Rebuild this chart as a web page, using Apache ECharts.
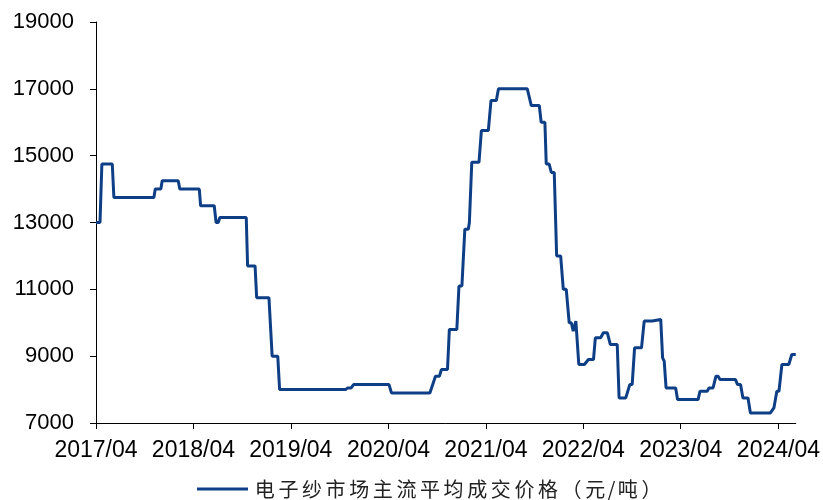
<!DOCTYPE html>
<html>
<head>
<meta charset="utf-8">
<script src="https://cdn.jsdelivr.net/npm/echarts@6/dist/echarts.min.js"></script>
<style>html,body{margin:0;padding:0;background:#fff}#c{width:823px;height:500px}</style>
</head>
<body>
<div id="c"></div>
<script>
var seriesName = '电子纱市场主流平均成交价格（元/吨）';
var dates = [
 '2017-04-01','2017-04-16','2017-04-23','2017-06-01','2017-06-07','2017-11-04','2017-11-09','2017-11-30','2017-12-05',
 '2018-02-03','2018-02-09','2018-04-23','2018-04-28','2018-06-18','2018-06-25','2018-07-03','2018-07-09','2018-10-16',
 '2018-10-21','2018-11-18','2018-11-24','2019-01-09','2019-01-21','2019-02-11','2019-02-18','2019-10-23','2019-10-31',
 '2019-11-13','2019-11-22','2020-04-03','2020-04-12','2020-09-03','2020-09-24','2020-10-09','2020-10-16','2020-11-08',
 '2020-11-15','2020-12-13','2020-12-21','2021-01-01','2021-01-12','2021-01-25','2021-01-29','2021-02-07','2021-03-06',
 '2021-03-15','2021-04-10','2021-04-20','2021-05-10','2021-05-18','2021-09-03','2021-09-18','2021-10-18','2021-10-25',
 '2021-11-08','2021-11-13','2021-11-24','2021-12-02','2021-12-13','2021-12-22','2022-01-06','2022-01-16','2022-01-27',
 '2022-02-07','2022-02-15','2022-02-22','2022-03-04','2022-03-15','2022-04-05','2022-04-20','2022-05-09','2022-05-16',
 '2022-06-05','2022-06-15','2022-06-30','2022-07-11','2022-08-06','2022-08-13','2022-09-07','2022-09-22','2022-10-01',
 '2022-10-10','2022-11-05','2022-11-15','2022-12-15','2022-12-22','2023-01-16','2023-01-23','2023-01-29','2023-02-05',
 '2023-03-13','2023-03-20','2023-06-05','2023-06-12','2023-07-09','2023-07-16','2023-07-31','2023-08-11','2023-08-19',
 '2023-08-26','2023-10-23','2023-10-31','2023-11-11','2023-11-20','2023-12-09','2023-12-18','2024-03-02','2024-03-15',
 '2024-03-26','2024-04-03','2024-04-14','2024-05-10','2024-05-21','2024-06-05'
];
var values = [
 13000,13000,14750,14750,13750,13750,14000,14000,14250,
 14250,14000,14000,13500,13500,13000,13000,13150,13150,
 11700,11700,10750,10750,9000,9000,8000,8000,8050,
 8050,8150,8150,7900,7900,8400,8400,8600,8600,
 9800,9800,11100,11100,12800,12800,13000,14800,14800,
 15750,15750,16650,16650,17000,17000,16500,16500,16000,
 16000,14750,14750,14500,14500,12000,12000,11000,11000,
 10000,10000,9750,10050,8750,8750,8900,8900,9550,
 9550,9700,9700,9350,9350,7750,7750,8150,8150,
 9250,9250,10050,10050,10100,10100,8950,8850,8050,
 8050,7700,7700,7950,7950,8050,8050,8400,8400,
 8300,8300,8150,8150,7750,7750,7300,7300,7450,
 7950,7950,8750,8750,9050,9050
];
var xTickLabels = ['2017/04','2018/04','2019/04','2020/04','2021/04','2022/04','2023/04','2024/04'];
var xStart = '2017-04-01', xEnd = '2024-06-05';
var yMin = 7000, yMax = 19000, yStep = 2000;

function ts(s) { return Date.UTC(+s.slice(0, 4), +s.slice(5, 7) - 1, +s.slice(8, 10)); }
var xTickValues = xTickLabels.map(function (s) { return ts(s.replace('/', '-') + '-01'); });
var chart = echarts.init(document.getElementById('c'));
chart.setOption({
  animation: false,
  grid: { left: 96, right: 26, top: 22, bottom: 77, containLabel: false },
  legend: {
    data: [seriesName],
    left: 192, top: 474,
    itemWidth: 51, itemHeight: 14, itemGap: 10,
    formatter: function (name) {
      return name.split('').map(function (ch) {
        return ch === '/' ? '{s|/}' : '{c|' + ch + '}';
      }).join('');
    },
    textStyle: {
      fontFamily: 'Noto Sans CJK SC', fontSize: 21, color: '#222',
      rich: {
        c: { width: 23.6, align: 'center', fontFamily: 'Noto Sans CJK SC', fontSize: 20, color: '#222' },
        s: { width: 9, align: 'center', fontFamily: 'Noto Sans CJK SC', fontSize: 20, color: '#222' }
      }
    },
    icon: 'path://M0,6L51,6L51,9L0,9Z'
  },
  xAxis: {
    type: 'value',
    min: ts(xStart), max: ts(xEnd),
    axisLine: { lineStyle: { color: '#000', width: 1 } },
    axisTick: { show: true, length: 6, lineStyle: { color: '#000' }, customValues: xTickValues },
    axisLabel: {
      customValues: xTickValues,
      formatter: function (v) {
        var i = xTickValues.indexOf(v);
        return i >= 0 ? xTickLabels[i] : '';
      },
      fontFamily: 'Liberation Sans', fontSize: 23, color: '#000', margin: 16
    },
    splitLine: { show: false }
  },
  yAxis: {
    type: 'value', min: yMin, max: yMax, interval: yStep,
    axisLine: { show: true, lineStyle: { color: '#000', width: 1 } },
    axisTick: { show: true, length: 6, lineStyle: { color: '#000' } },
    axisLabel: {
      formatter: function (v) { return String(v); },
      fontFamily: 'Liberation Sans', fontSize: 22, color: '#000', margin: 22
    },
    splitLine: { show: false }
  },
  series: [{
    name: seriesName,
    type: 'line',
    data: dates.map(function (d, i) { return [ts(d), values[i]]; }),
    showSymbol: false,
    lineStyle: { color: '#0E3F86', width: 3 },
    itemStyle: { color: '#0E3F86' }
  }]
});
</script>
</body>
</html>
